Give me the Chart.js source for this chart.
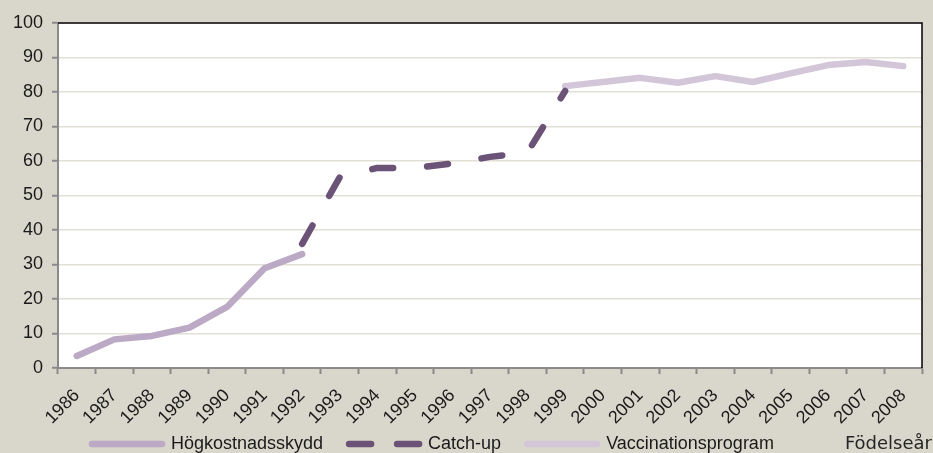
<!DOCTYPE html>
<html>
<head>
<meta charset="utf-8">
<script src="https://cdn.jsdelivr.net/npm/chart.js@4/dist/chart.umd.min.js"></script>
<style>
  html, body { margin: 0; padding: 0; background: #d9d6cb; }
  #wrap { width: 933px; height: 453px; }
</style>
</head>
<body>
<div id="wrap"><canvas id="chart" width="933" height="453"></canvas></div>
<script>
var years = ['1986','1987','1988','1989','1990','1991','1992','1993','1994','1995','1996','1997',
             '1998','1999','2000','2001','2002','2003','2004','2005','2006','2007','2008'];

// Högkostnadsskydd 1986-1992
var hogkostnad = [3.5, 8.3, 9.3, 11.7, 17.7, 28.9, 33,
                  null, null, null, null, null, null, null, null, null, null, null, null, null, null, null, null];
// Catch-up 1992-1999
var catchUp = [null, null, null, null, null, null, 36, 55.3, 58, 58, 59.3, 61.2, 62.5, 80.3,
               null, null, null, null, null, null, null, null, null];
// Vaccinationsprogram 1999-2008
var vaccination = [null, null, null, null, null, null, null, null, null, null, null, null, null,
                   81.7, 82.9, 84.1, 82.7, 84.6, 82.9, 85.4, 87.8, 88.7, 87.5];

var yTicks = [0, 10, 20, 30, 40, 50, 60, 70, 80, 90, 100];
var axisTitle = 'Födelseår';

var font = { family: '"Liberation Sans", Arial, sans-serif', size: 18 };

var ctx = document.getElementById('chart').getContext('2d');

var extras = {
    id: 'extras',
    afterLayout: function(c) {
        // legend sits left of centre on the bottom line in the original
        c.legend.left = 86;
        c.legend.top = 429;
    },
    beforeDraw: function(c) {
        var a = c.chartArea, g = c.ctx;
        g.save();
        g.fillStyle = '#ffffff';
        g.fillRect(a.left, a.top, a.right - a.left, a.bottom - a.top);
        g.restore();
    },
    afterDraw: function(c) {
        var a = c.chartArea, g = c.ctx;
        g.save();
        g.strokeStyle = '#000';
        g.lineWidth = 1.5;
        g.beginPath();
        g.moveTo(a.left, a.top);
        g.lineTo(a.right, a.top);
        g.lineTo(a.right, a.bottom);
        g.stroke();
        g.fillStyle = '#262626';
        g.font = '18px "DejaVu Sans", sans-serif';
        g.textAlign = 'right';
        g.textBaseline = 'alphabetic';
        g.fillText(axisTitle, 932, 449);
        g.restore();
    }
};

var chart = new Chart(ctx, {
    type: 'line',
    data: {
        labels: years,
        datasets: [
            {
                label: 'Högkostnadsskydd    ',
                data: hogkostnad,
                borderColor: '#bba9c5',
                backgroundColor: '#bba9c5',
                borderWidth: 6.5,
                borderCapStyle: 'round',
                borderJoinStyle: 'round',
                pointRadius: 0,
                tension: 0
            },
            {
                label: 'Catch-up    ',
                data: catchUp,
                borderColor: '#6b5277',
                backgroundColor: '#6b5277',
                borderWidth: 6.5,
                borderDash: [21, 34],
                borderCapStyle: 'round',
                borderJoinStyle: 'round',
                pointRadius: 0,
                tension: 0
            },
            {
                label: 'Vaccinationsprogram',
                data: vaccination,
                borderColor: '#d3c6d9',
                backgroundColor: '#d3c6d9',
                borderWidth: 6.5,
                borderCapStyle: 'round',
                borderJoinStyle: 'round',
                pointRadius: 0,
                tension: 0
            }
        ]
    },
    options: {
        responsive: false,
        animation: false,
        spanGaps: false,
        layout: { padding: { left: 0, right: 11, top: 23, bottom: -8 } },
        plugins: {
            legend: {
                position: 'bottom',
                align: 'start',
                labels: {
                    usePointStyle: true,
                    pointStyle: 'line',
                    pointStyleWidth: 70,
                    boxHeight: 6,
                    padding: 6,
                    color: '#1a1a1a',
                    font: font,
                    generateLabels: function(c) {
                        var items = Chart.defaults.plugins.legend.labels.generateLabels(c);
                        items.forEach(function(it) {
                            it.lineCap = 'round';
                            it.lineWidth = 6.5;
                        });
                        // the legend swatch of the dashed line shows two dashes
                        items[1].lineDash = [22, 26];
                        return items;
                    }
                }
            },
            tooltip: { enabled: false }
        },
        scales: {
            x: {
                offset: true,
                grid: {
                    offset: true,
                    drawOnChartArea: false,
                    drawTicks: true,
                    tickLength: 6,
                    tickColor: '#8a8a8a',
                    tickWidth: 2
                },
                border: { color: '#8a8a8a', width: 2 },
                ticks: {
                    minRotation: 45,
                    maxRotation: 45,
                    autoSkip: false,
                    color: '#1a1a1a',
                    font: font,
                    padding: 11
                },
                afterFit: function(s) { s.height = 59; }
            },
            y: {
                min: 0,
                max: 100,
                afterBuildTicks: function(s) {
                    s.ticks = yTicks.map(function(v) { return { value: v }; });
                },
                grid: {
                    color: '#e2dfd6',
                    lineWidth: 1.5,
                    tickLength: 6,
                    tickColor: '#8a8a8a',
                    tickWidth: 2
                },
                border: { color: '#8a8a8a', width: 2 },
                ticks: {
                    color: '#1a1a1a',
                    font: font,
                    padding: 9
                },
                afterFit: function(s) { s.width = 58; }
            }
        }
    },
    plugins: [extras]
});
</script>
</body>
</html>
